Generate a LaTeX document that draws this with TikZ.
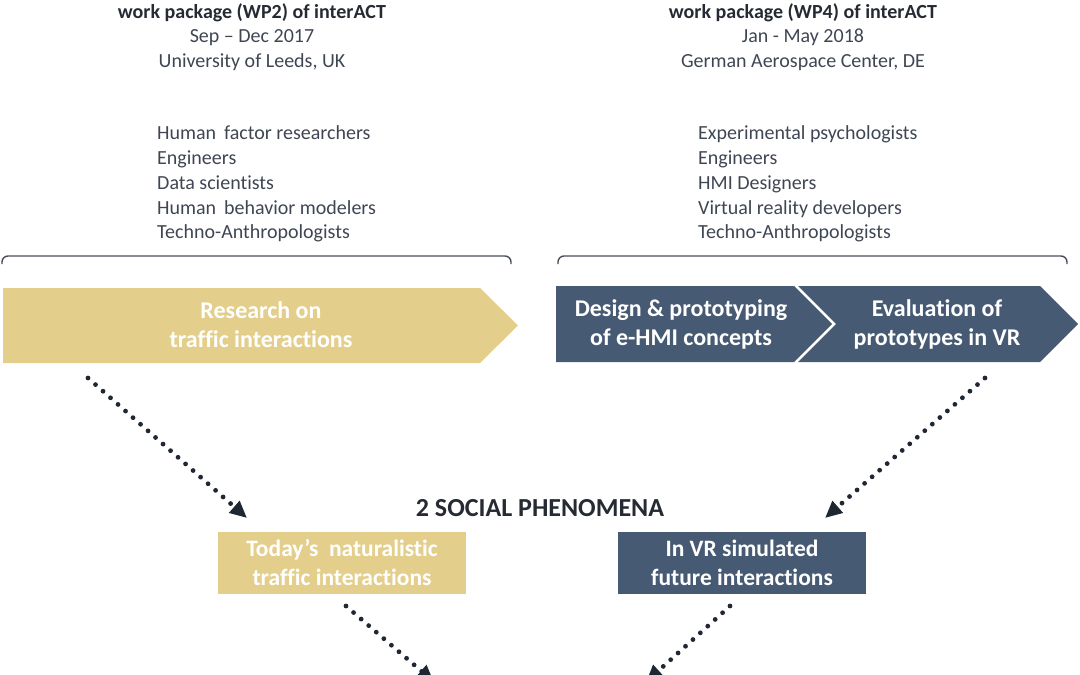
\documentclass[tikz,border=0pt]{standalone}
\usepackage{fontspec}
\setmainfont{Carlito}[Ligatures={NoCommon}]
\usetikzlibrary{arrows.meta}
\definecolor{wpyellow}{HTML}{E3CF8B}
\definecolor{wpblue}{HTML}{475A73}
\definecolor{txtdark}{HTML}{262B33}
\definecolor{txtgray}{HTML}{3F4653}
\definecolor{dotcol}{HTML}{1F2733}
\definecolor{bracecol}{HTML}{4A4F58}
\begin{document}
\begin{tikzpicture}[x=1pt,y=-1pt,
  hdr/.style={align=center, text=txtgray, font=\fontsize{20}{24.5}\selectfont, inner sep=0pt},
  lst/.style={align=left, text=txtgray, font=\fontsize{20}{24.8}\selectfont, anchor=west, inner sep=0pt},
  lbl/.style={align=center, text=white, font=\bfseries\fontsize{24}{29}\selectfont, inner sep=0pt},
  boxnode/.style={align=center, text=white, font=\bfseries\fontsize{23.5}{29}\selectfont, minimum width=248pt, minimum height=62pt, inner sep=0pt},
  dots/.style={draw=dotcol, line width=4.8pt, line cap=round, dash pattern=on 0pt off 10pt, -{Triangle[length=17pt,width=15pt]}},
  brace/.style={draw=bracecol, line width=1.4pt, rounded corners=6pt}
]
\useasboundingbox (0,0) rectangle (1080,675);
\clip (0,0) rectangle (1080,675);

% headers
\node[hdr] (hdrL) at (252,37) {{\bfseries\color{txtdark}work package (WP2) of interACT}\\Sep -- Dec 2017\\University of Leeds, UK};
\node[hdr] (hdrR) at (803,37) {{\bfseries\color{txtdark}work package (WP4) of interACT}\\Jan - May 2018\\German Aerospace Center, DE};

% lists
\node[lst] (lstL) at (157,184) {Human\, factor researchers\\Engineers\\Data scientists\\Human\, behavior modelers\\Techno-Anthropologists};
\node[lst] (lstR) at (698,184) {Experimental psychologists\\Engineers\\HMI Designers\\Virtual reality developers\\Techno-Anthropologists};

% braces
\draw[brace] (2,264) -- (2,256) -- (511,256) -- (511,264);
\draw[brace] (558,264) -- (558,256) -- (1067,256) -- (1067,264);

% process arrows
\fill[wpyellow] (3,288) -- (480,288) -- (518,325.5) -- (480,363) -- (3,363) -- cycle;
\node[lbl] (research) at (261,325) {Research on\\traffic interactions};
\fill[wpblue] (556,286) -- (794,286) -- (832,324) -- (794,362) -- (556,362) -- cycle;
\node[lbl] (design) at (681,324) {Design \& prototyping\\of e-HMI concepts};
\fill[wpblue] (798,286) -- (1040,286) -- (1078,324) -- (1040,362) -- (798,362) -- (836,324) -- cycle;
\node[lbl] (evaluation) at (937,324) {Evaluation of\\prototypes in VR};

% title
\node[text=txtdark, font=\bfseries\fontsize{26}{30}\selectfont, inner sep=0pt] (social) at (540,508) {2 SOCIAL PHENOMENA};

% boxes
\node[boxnode, fill=wpyellow] (today) at (342,563) {Today’s\ \ naturalistic\\traffic interactions};
\node[boxnode, fill=wpblue] (future) at (742,563) {In VR simulated\\future interactions};

% connectors
\coordinate (s1) at (88,378);
\coordinate (e1) at (247,518);
\coordinate (s2) at (985,378);
\coordinate (e2) at (825,518);
\coordinate (s3) at (346,606);
\coordinate (e3) at (434,682);
\coordinate (s4) at (730,606);
\coordinate (e4) at (646,682);
\draw[dots] (s1) -- (e1);
\draw[dots] (s2) -- (e2);
\draw[dots] (s3) -- (e3);
\draw[dots] (s4) -- (e4);
\end{tikzpicture}
\end{document}
